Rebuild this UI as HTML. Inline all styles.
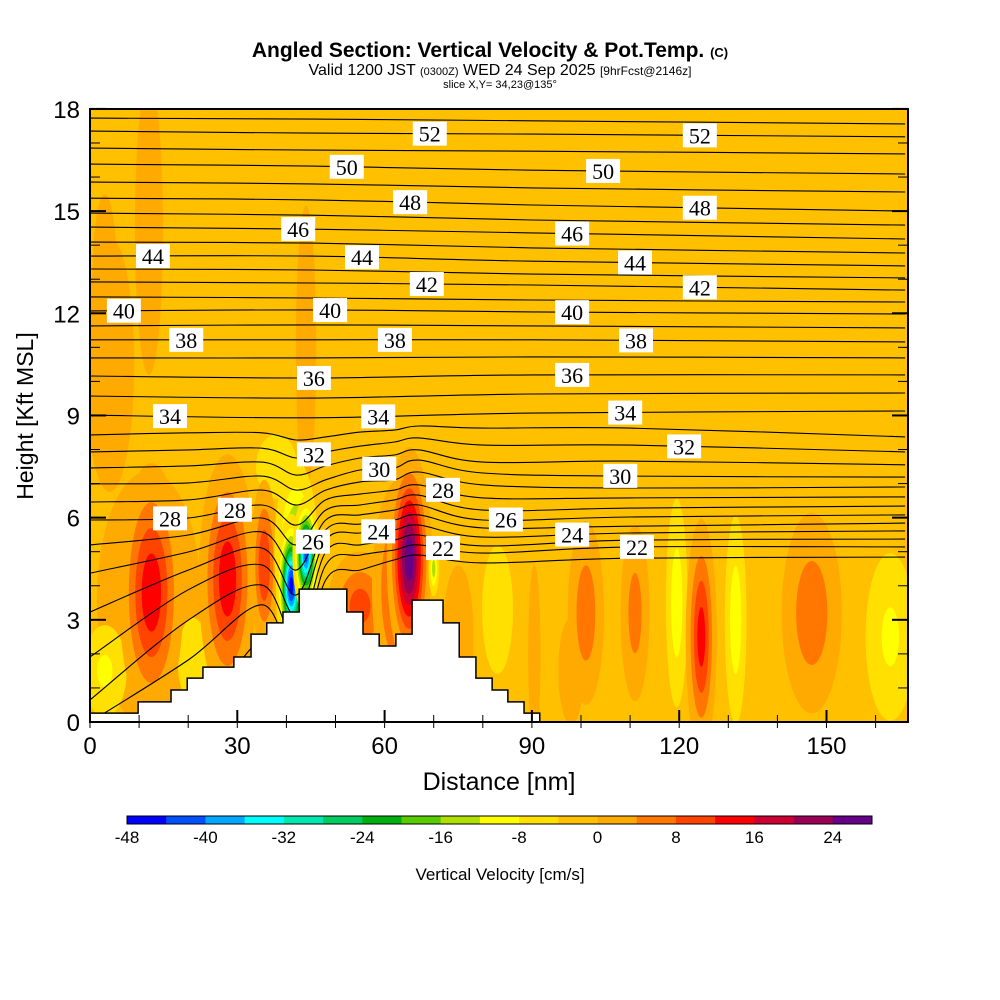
<!DOCTYPE html>
<html><head><meta charset="utf-8">
<style>
html,body{margin:0;padding:0;background:#fff;}
svg{display:block;font-family:"Liberation Sans",sans-serif;}
</style></head>
<body>
<svg id="chart" width="1000" height="1000" viewBox="0 0 1000 1000" xmlns="http://www.w3.org/2000/svg">
<defs><clipPath id="plotclip"><rect x="90" y="109" width="818" height="613"/></clipPath></defs>
<g>
<text x="490" y="57" text-anchor="middle" font-size="21" font-weight="bold">Angled Section: Vertical Velocity &amp; Pot.Temp. <tspan font-size="13">(C)</tspan></text>
<text x="500" y="75" text-anchor="middle" font-size="16">Valid 1200 JST <tspan font-size="11">(0300Z)</tspan> WED 24 Sep 2025 <tspan font-size="12">[9hrFcst@2146z]</tspan></text>
<text x="500" y="88" text-anchor="middle" font-size="11">slice X,Y= 34,23@135°</text>
</g>
<rect x="90" y="109" width="818" height="613" fill="#ffc000"/>
<g id="cells" clip-path="url(#plotclip)"></g>
<g id="lines" clip-path="url(#plotclip)"></g>
<g id="terrain"></g>
<g id="labels"></g>
<g id="axes"></g>
<g id="colorbar"></g>
<text x="500" y="880" text-anchor="middle" font-size="17">Vertical Velocity [cm/s]</text>
<text x="499" y="790" text-anchor="middle" font-size="25">Distance [nm]</text>
<text x="0" y="0" transform="translate(33,416) rotate(-90)" text-anchor="middle" font-size="23">Height [Kft MSL]</text>
</svg>
<script>
const NS="http://www.w3.org/2000/svg";
// ---- data ----
const xTicks=[0,30,60,90,120,150];
const yTicks=[0,3,6,9,12,15,18];
const cbarTicks=[-48,-40,-32,-24,-16,-8,0,8,16,24];
const cbarColors=["#0000ff","#0050ff","#00a8ff","#00ffff","#00e8b0","#00cc60","#00b010","#58cc00","#b0e000","#ffff00","#ffe000","#ffc000","#ffaa00","#ff7700","#ff4400","#ff0000","#cc0033","#990055","#660088"];
const terrainEdges=[0,9.8,16.5,19.8,23.0,29.3,32.8,36.0,39.3,42.6,52.3,55.6,58.9,62.3,65.6,71.9,75.2,78.6,81.9,85.1,88.4,91.6];
const terrainHeights=[0.26,0.59,0.94,1.29,1.61,1.91,2.58,2.91,3.23,3.90,3.23,2.58,2.23,2.58,3.58,2.91,1.91,1.29,0.94,0.59,0.26];
const upperX=[0,45,90,166];
const upperLevels=[53,52,51,50,49,48,47,46,45,44,43,42,41,40,39,38,37,36,35,34];
const upperHeights=[
[17.73,17.70,17.65,17.56],[17.35,17.29,17.26,17.18],[16.85,16.79,16.76,16.68],[16.38,16.32,16.20,16.09],
[15.85,15.80,15.68,15.56],[15.38,15.33,15.18,15.00],[14.94,14.88,14.74,14.59],[14.53,14.47,14.36,14.18],
[14.09,14.06,13.92,13.77],[13.68,13.68,13.53,13.39],[13.30,13.27,13.15,13.04],[12.92,12.89,12.83,12.68],
[12.48,12.45,12.39,12.33],[12.07,12.10,12.04,11.98],[11.63,11.66,11.63,11.57],[11.22,11.22,11.22,11.16],
[10.69,10.69,10.72,10.69],[10.16,10.10,10.19,10.19],[9.57,9.51,9.63,9.66],[9.01,8.93,9.07,9.13]];
const lowerX=[0,20,35,42,48,55,62,67,80,110,166];
const lowerLevels=[33,32,31,30,29,28,27,26,25,24,23,22,21];
const lowerHeights=[
[8.43,8.49,8.49,8.28,8.37,8.51,8.57,8.69,8.63,8.63,8.37],
[7.93,7.99,8.04,7.75,7.93,8.10,8.22,8.34,8.13,8.13,7.93],
[7.46,7.52,7.63,7.25,7.52,7.75,7.84,7.99,7.63,7.66,7.55],
[6.99,7.02,7.22,6.81,7.11,7.40,7.46,7.69,7.31,7.22,7.19],
[6.46,6.52,6.81,6.37,6.81,7.05,7.11,7.34,6.96,6.87,6.90],
[5.93,5.99,6.37,5.78,6.52,6.69,6.81,6.96,6.58,6.58,6.61],
[5.20,5.49,5.99,5.20,6.22,6.37,6.52,6.66,6.22,6.28,6.34],
[4.37,4.99,5.58,4.46,5.93,6.08,6.22,6.37,5.93,6.02,6.08],
[3.23,4.46,5.11,3.73,5.64,5.81,5.93,6.08,5.70,5.75,5.84],
[1.91,3.88,4.61,3.14,5.34,5.55,5.64,5.78,5.43,5.55,5.61],
[0.65,2.99,4.02,2.41,4.99,5.20,5.34,5.49,5.17,5.34,5.37],
[0.00,1.82,3.44,1.82,4.61,4.90,5.05,5.20,4.96,5.14,5.14],
[0.00,0.06,2.41,1.23,4.17,4.46,4.76,4.90,4.67,4.81,4.84]];
const labelLevels=[52,52,50,50,48,48,46,46,44,44,44,42,42,40,40,40,38,38,38,36,36,34,34,34,32,32,30,30,28,28,28,26,26,24,24,22,22];
const labelX=[69.2,124.2,52.3,104.5,65.2,124.2,42.4,98.2,12.8,55.4,111,68.6,124.2,6.9,48.9,98.2,19.6,62.1,111.2,45.6,98.2,16.3,58.7,109,45.6,121,58.9,108,16.3,29.5,71.9,45.4,84.7,58.7,98.2,71.9,111.4];
// velocity cells: center x (nm), center z (kft), spread x (nm), spread z (kft), peak (cm/s)
const cellX=[4,12,44,3,12,3,21,38,83,12.5,28,35.5,55,63,42,41,44,65,70,75,90.5,98,101,111,119.5,124.5,131.5,147,163];
const cellZ=[10.5,14.5,11,13,3.6,1.5,1.8,7.5,3.3,3.8,4.2,4.6,3.4,3.9,5.0,4.0,4.9,4.8,4.5,2.5,2,1.5,3.2,3.2,3.5,2.5,3,3.2,2.5];
const cellSX=[6,3,2.5,3,9,4,3,4,3,4.5,4,2,5,4,3,1.8,1.6,2.8,0.8,3,1.2,2.5,3,2.5,1.8,2.2,1.8,5,4.5];
const cellSZ=[4.5,4.5,5,3,3.2,1.2,1.2,0.9,1.8,2.6,2.5,1.8,1.2,2.3,1.8,1.2,1.0,2.0,0.6,2,2.5,1.5,2.2,2.2,2.5,2.4,2.5,2.4,2.2];
const cellV=[2,3,2,2,6,-9,-8,-8,-8,15,15,12,10,12,-20,-46,-42,27,-14,4,4,4,7,6,-11,14,-11,7,-9];
// ---- scales ----
const xs=nm=>90+nm*4.91;
const ys=k=>722-k*34.06;
const bg=-2;
function el(tag,attrs,parent){const e=document.createElementNS(NS,tag);for(const k in attrs)e.setAttribute(k,attrs[k]);parent.appendChild(e);return e;}
function colorFor(v){let i=Math.floor((v+48)/4);i=Math.max(0,Math.min(cbarColors.length-1,i));return cbarColors[i];}
// cells
const gC=document.getElementById('cells');
for(let c=0;c<cellX.length;c++){
  const v=cellV[c];const th=[];
  if(v>bg){for(let t=0;t<v;t+=4)th.push(t);}else{for(let t=-4;t>v;t-=4)th.push(t);}
  th.forEach(t=>{
    const r=Math.sqrt(Math.log((v-bg)/(t-bg)));
    const col=v>bg?colorFor(t+0.1):colorFor(t-0.1);
    const e=el('ellipse',{cx:xs(cellX[c]),cy:ys(cellZ[c]),rx:cellSX[c]*r*4.91,ry:cellSZ[c]*r*34.06,fill:col},gC);
    
    
  });
}
// lines
function smooth(pts){let d='M'+pts[0][0].toFixed(1)+','+pts[0][1].toFixed(1);
  for(let i=0;i<pts.length-1;i++){const p0=pts[Math.max(0,i-1)],p1=pts[i],p2=pts[i+1],p3=pts[Math.min(pts.length-1,i+2)];
    const c1=[p1[0]+(p2[0]-p0[0])/6,p1[1]+(p2[1]-p0[1])/6],c2=[p2[0]-(p3[0]-p1[0])/6,p2[1]-(p3[1]-p1[1])/6];
    d+=' C'+c1[0].toFixed(1)+','+c1[1].toFixed(1)+' '+c2[0].toFixed(1)+','+c2[1].toFixed(1)+' '+p2[0].toFixed(1)+','+p2[1].toFixed(1);}
  return d;}
const gL=document.getElementById('lines');
const lineMap={};
function addLines(levels,xsArr,hs){levels.forEach((lv,i)=>{
  lineMap[lv]={x:xsArr,h:hs[i]};
  const pts=xsArr.map((x,j)=>[xs(x),ys(hs[i][j])]);
  const p=el('path',{d:smooth(pts),fill:'none',stroke:'#000','stroke-width':1.1},gL);
  
  
});}
addLines(upperLevels,upperX,upperHeights);
addLines(lowerLevels,lowerX,lowerHeights);
// terrain
const gT=document.getElementById('terrain');
let td='M'+xs(terrainEdges[0])+','+ys(0);
for(let i=0;i<terrainHeights.length;i++){td+=' L'+xs(terrainEdges[i])+','+ys(terrainHeights[i])+' L'+xs(terrainEdges[i+1])+','+ys(terrainHeights[i]);}
td+=' L'+xs(terrainEdges[terrainEdges.length-1])+','+ys(0)+' Z';
const tp=el('path',{d:td,fill:'#fff',stroke:'#000','stroke-width':1.5},gT);


// labels
const gLab=document.getElementById('labels');
function interp(lv,x){const L=lineMap[lv];for(let j=0;j<L.x.length-1;j++){if(x>=L.x[j]&&x<=L.x[j+1]){const f=(x-L.x[j])/(L.x[j+1]-L.x[j]);return L.h[j]+f*(L.h[j+1]-L.h[j]);}}return L.h[L.h.length-1];}
labelLevels.forEach((lv,i)=>{
  const px=xs(labelX[i]),py=ys(interp(lv,labelX[i]));
  const g=el('g',{},gLab);
  
  
  el('rect',{x:px-17,y:py-12,width:34,height:24,fill:'#fff'},g);
  const t=el('text',{x:px,y:py+8,'text-anchor':'middle','font-size':22,'font-family':'"Liberation Serif",serif'},g);
  t.textContent=lv;
});
// axes
const gA=document.getElementById('axes');
const fr=el('rect',{x:90,y:109,width:818,height:613,fill:'none',stroke:'#000','stroke-width':2},gA);


for(let n=0;n<=160;n+=10){const x=xs(n);const big=n%30===0;
  el('line',{x1:x,y1:722,x2:x,y2:722-(big?12:7),stroke:'#000','stroke-width':big?2:1},gA);
  el('line',{x1:x,y1:722,x2:x,y2:728,stroke:'#000','stroke-width':1},gA);}
for(let k=0;k<=18;k++){const y=ys(k);const big=k%3===0;
  el('line',{x1:90,y1:y,x2:90+(big?16:10),y2:y,stroke:'#000','stroke-width':big?2:1},gA);
  el('line',{x1:908,y1:y,x2:908-(big?16:10),y2:y,stroke:'#000','stroke-width':big?2:1},gA);}
xTicks.forEach(v=>{const t=el('text',{x:xs(v),y:754,'text-anchor':'middle','font-size':24},gA);t.textContent=v;
  });
yTicks.forEach(v=>{const t=el('text',{x:80,y:ys(v)+9,'text-anchor':'end','font-size':24},gA);t.textContent=v;
  });
// colorbar
const gCb=document.getElementById('colorbar');
const cbX0=127,cbW=745/cbarColors.length;
cbarColors.forEach((c,i)=>{const r=el('rect',{x:cbX0+i*cbW,y:816,width:cbW+0.3,height:8,fill:c},gCb);
  });
el('rect',{x:cbX0,y:816,width:745,height:8,fill:'none',stroke:'#000','stroke-width':1},gCb);
cbarTicks.forEach(v=>{const t=el('text',{x:cbX0+(v+48)/4*cbW,y:843,'text-anchor':'middle','font-size':17},gCb);t.textContent=v;
  });
</script>
</body></html>
